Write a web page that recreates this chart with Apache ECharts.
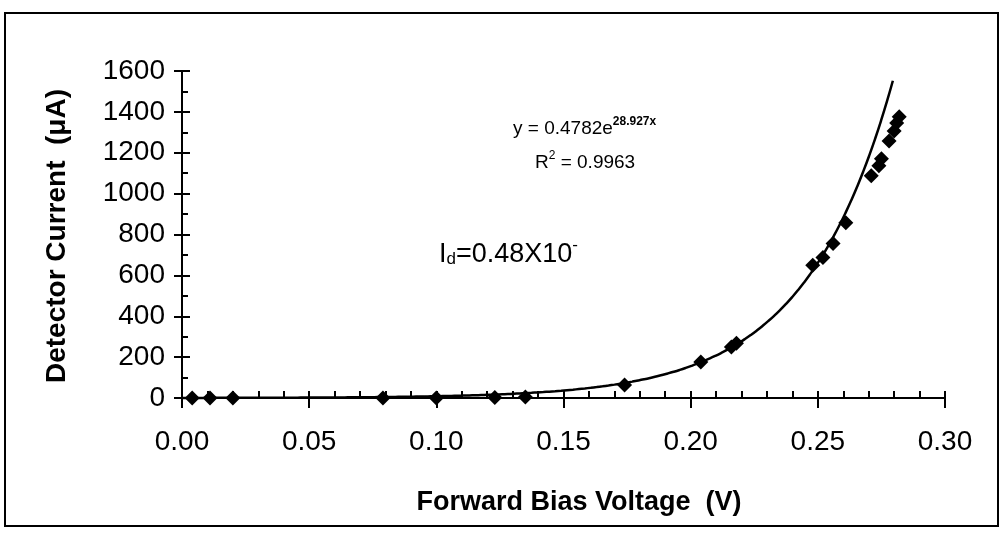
<!DOCTYPE html>
<html>
<head>
<meta charset="utf-8">
<title>Detector Current vs Forward Bias Voltage</title>
<script src="https://cdn.jsdelivr.net/npm/echarts@6/dist/echarts.min.js"></script>
<style>
  html, body { margin: 0; padding: 0; background: #ffffff; }
  #chart { width: 1000px; height: 539px; }
</style>
</head>
<body>
<div id="chart"></div>
<script>
// Measured detector current (µA) at each forward bias voltage (V)
const voltage = [0.004, 0.011, 0.020, 0.079, 0.100, 0.123, 0.135, 0.174, 0.204, 0.216, 0.218,
                 0.248, 0.252, 0.256, 0.261, 0.271, 0.274, 0.275, 0.278, 0.280, 0.281, 0.282];
const current = [0, 0, 0, 0, 0, 3, 5, 63, 176, 250, 268,
                 649, 688, 756, 858, 1088, 1137, 1171, 1258, 1307, 1346, 1376];

// Exponential fit y = A·e^(B·x) as printed on the chart
const fitA = 0.4782;
const fitB = 28.927;
const fitR2 = 0.9963;
const fitRange = [0, 0.2795];

// Axis tick labels
const xTicks = ['0.00', '0.05', '0.10', '0.15', '0.20', '0.25', '0.30'];
const yTicks = ['0', '200', '400', '600', '800', '1000', '1200', '1400', '1600'];

const FONT = '"Liberation Sans", Arial, sans-serif';

// Trendline points evaluated from the fitted equation
const fitPoints = [];
for (let i = 0; i <= 120; i++) {
  const x = fitRange[0] + (fitRange[1] - fitRange[0]) * i / 120;
  fitPoints.push([x, fitA * Math.exp(fitB * x)]);
}

const scatterData = voltage.map((v, i) => [v, current[i]]);

const chart = echarts.init(document.getElementById('chart'), null, { renderer: 'canvas' });

const gridBox = { left: 182, right: 55, top: 71, bottom: 141 };
const axisLine = { lineStyle: { color: '#000', width: 2 } };

chart.setOption({
  backgroundColor: '#ffffff',
  animation: false,
  grid: gridBox,
  xAxis: [
    {
      type: 'value', min: 0, max: 0.3, interval: 0.05, position: 'bottom',
      axisLine: Object.assign({ onZero: false }, axisLine),
      axisTick: { show: true, inside: false, length: 10, lineStyle: { color: '#000', width: 2 } },
      axisLabel: {
        margin: 30, color: '#000', fontFamily: FONT, fontSize: 28,
        formatter: (v) => xTicks[Math.round(v / 0.05)] || ''
      },
      splitLine: { show: false }
    },
    {
      type: 'value', min: 0, max: 0.3, interval: 0.05, position: 'bottom', offset: 0,
      axisLine: { show: false },
      axisTick: { show: true, inside: true, length: 7, lineStyle: { color: '#000', width: 2 } },
      minorTick: { show: true, splitNumber: 5, length: 7, lineStyle: { color: '#000', width: 2 } },
      axisLabel: { show: false },
      splitLine: { show: false }
    }
  ],
  yAxis: [
    {
      type: 'value', min: 0, max: 1600, interval: 200, position: 'left',
      axisLine: Object.assign({ onZero: false }, axisLine),
      axisTick: { show: true, inside: false, length: 8, lineStyle: { color: '#000', width: 2 } },
      axisLabel: {
        margin: 17, color: '#000', fontFamily: FONT, fontSize: 28,
        formatter: (v) => yTicks[Math.round(v / 200)] || ''
      },
      splitLine: { show: false }
    },
    {
      type: 'value', min: 0, max: 1600, interval: 200, position: 'left', offset: 0,
      axisLine: { show: false },
      axisTick: { show: true, inside: true, length: 8, lineStyle: { color: '#000', width: 2 } },
      minorTick: { show: true, splitNumber: 2, length: 6, lineStyle: { color: '#000', width: 2 } },
      axisLabel: { show: false },
      splitLine: { show: false }
    }
  ],
  series: [
    {
      name: 'Exponential fit',
      type: 'line',
      data: fitPoints,
      showSymbol: false,
      smooth: true,
      clip: false,
      lineStyle: { color: '#000', width: 2.5 },
      z: 3
    },
    {
      name: 'Detector current',
      type: 'scatter',
      data: scatterData,
      symbol: 'diamond',
      symbolSize: 15,
      clip: false,
      itemStyle: { color: '#000', opacity: 1 },
      z: 4
    }
  ],
  graphic: [
    {
      type: 'rect', z: -1,
      shape: { x: 5, y: 13, width: 993, height: 513 },
      style: { fill: 'none', stroke: '#000', lineWidth: 2 }
    },
    {
      type: 'text', x: 57, y: 236, rotation: Math.PI / 2,
      style: {
        text: 'Detector Current  (\u03bcA)', fill: '#000', fontFamily: FONT,
        fontSize: 28, fontWeight: 'bold', align: 'center', verticalAlign: 'middle'
      }
    },
    {
      type: 'text', x: 579, y: 503,
      style: {
        text: 'Forward Bias Voltage  (V)', fill: '#000', fontFamily: FONT,
        fontSize: 27, fontWeight: 'bold', align: 'center', verticalAlign: 'middle'
      }
    },
    {
      type: 'text', x: 513, y: 138,
      style: {
        text: '{m|y = ' + fitA + 'e}{s|' + fitB + 'x}',
        verticalAlign: 'bottom',
        rich: {
          m: { fontFamily: FONT, fontSize: 19, color: '#000', verticalAlign: 'bottom' },
          s: { fontFamily: FONT, fontSize: 12, fontWeight: 'bold', color: '#000', verticalAlign: 'top', padding: [0, 0, 10, 0] }
        }
      }
    },
    {
      type: 'text', x: 535, y: 172,
      style: {
        text: '{m|R}{s|2}{m| = ' + fitR2 + '}',
        verticalAlign: 'bottom',
        rich: {
          m: { fontFamily: FONT, fontSize: 19, color: '#000', verticalAlign: 'bottom' },
          s: { fontFamily: FONT, fontSize: 12, color: '#000', verticalAlign: 'top', padding: [0, 0, 10, 0] }
        }
      }
    },
    {
      type: 'text', x: 439, y: 268,
      style: {
        text: '{m|I}{d|d}{m|=0.48X10}{s|-}',
        verticalAlign: 'bottom',
        rich: {
          m: { fontFamily: FONT, fontSize: 27, color: '#000', verticalAlign: 'bottom' },
          d: { fontFamily: FONT, fontSize: 17, color: '#000', verticalAlign: 'bottom', padding: [8, 0, 0, 0] },
          s: { fontFamily: FONT, fontSize: 17, color: '#000', verticalAlign: 'top', padding: [0, 0, 14, 0] }
        }
      }
    }
  ]
});
</script>
</body>
</html>
